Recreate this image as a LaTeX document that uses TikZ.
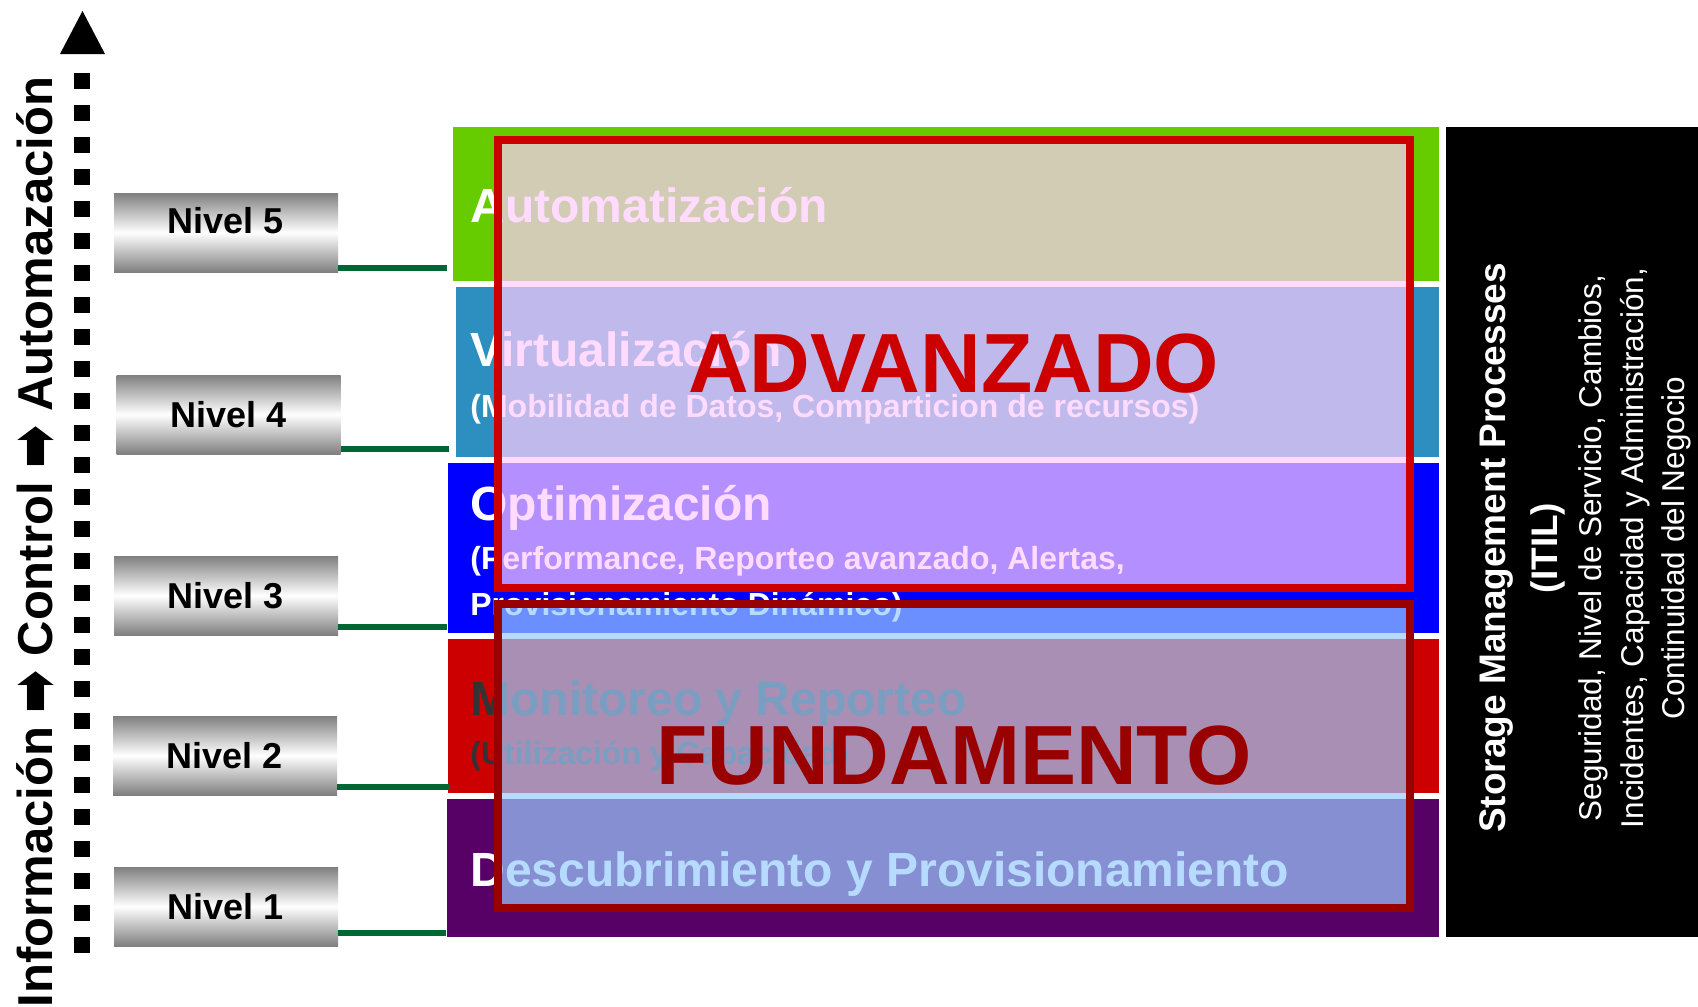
\documentclass[tikz,border=0pt]{standalone}
\usepackage{fontspec}
\usepackage{graphicx}
\setmainfont{Liberation Sans}
\newfontfamily\arrowfont{DejaVu Sans}
\newcommand{\flowarrow}{\raisebox{-0.09em}{\scalebox{1.05}[1.4]{\arrowfont ➡}}}

\definecolor{lvgreen}{HTML}{66CC00}
\definecolor{lvteal}{HTML}{2C8FC0}
\definecolor{lvblue}{HTML}{0000FF}
\definecolor{lvred}{HTML}{CC0000}
\definecolor{lvpurple}{HTML}{570066}
\definecolor{advpink}{HTML}{FFCCFF}
\definecolor{fundblue}{HTML}{99CCFF}
\definecolor{fundred}{HTML}{990000}
\definecolor{linkgreen}{HTML}{006633}
\definecolor{darktxt}{HTML}{333333}

\tikzset{
  nivel/.style={minimum width=112pt, minimum height=39.5pt, inner sep=0pt,
    top color=gray, bottom color=gray, middle color=white,
    font=\fontsize{18}{18}\selectfont\bfseries},
  lvlink/.style={draw=linkgreen, line width=3pt},
  ttl/.style={anchor=base west, inner sep=0pt, text=white,
    font=\fontsize{24}{24}\selectfont\bfseries},
  subttl/.style={anchor=base west, inner sep=0pt, text=white,
    font=\fontsize{16}{16}\selectfont\bfseries},
  bigword/.style={inner sep=0pt, font=\fontsize{42}{42}\selectfont\bfseries},
  itil/.style={rotate=90, anchor=base, inner sep=0pt, text=white,
    font=\fontsize{15.75}{15.75}\selectfont},
}

\begin{document}
\begin{tikzpicture}[x=0.5pt, y=-0.5pt]
\useasboundingbox (0,0) rectangle (1698,1007);

% capas
\fill[lvgreen]  (453,127) rectangle (1439,281);
\fill[lvteal]   (456,287) rectangle (1439,457);
\fill[lvblue]   (448,463) rectangle (1439,633);
\fill[lvred]    (448,639) rectangle (1439,793);
\fill[lvpurple] (447,799) rectangle (1439,937);
\fill[black]    (1446,127) rectangle (1698,937);

\node[ttl] (auto) at (470,222) {Automatización};
\node[ttl] (virt) at (470,366) {Virtualización};
\node[subttl] (virtsub) at (470,417) {(Mobilidad de Datos, Comparticion de recursos)};
\node[ttl] (opti) at (470,520) {Optimización};
\node[subttl] (optisub) at (470,569) {(Performance, Reporteo avanzado, Alertas,};
\node[subttl] (optisubb) at (470,615) {Provisionamiento Dinámico)};
\node[ttl, text=darktxt] (moni) at (470,715) {Monitoreo y Reporteo};
\node[subttl, text=darktxt] (monisub) at (470,764) {(Utilización y Capacidad)};
\node[ttl] (desc) at (470,886) {Descubrimiento y Provisionamiento};

% marcos
\fill[advpink, opacity=0.7] (498,140) rectangle (1410,588);
\draw[lvred, line width=4pt] (498,140) rectangle (1410,588);
\fill[fundblue, opacity=0.7] (498,604) rectangle (1410,908);
\draw[fundred, line width=4pt] (498,604) rectangle (1410,908);
\node[bigword, text=lvred] (adv) at (954,364) {ADVANZADO};
\node[bigword, text=fundred] (fund) at (954,756) {FUNDAMENTO};

% niveles
\node[nivel, text depth=12pt] (n5) at (226,232.5) {Nivel 5};
\node[nivel] (n4) at (228.5,414.5) {Nivel 4};
\node[nivel] (n3) at (226,595.5) {Nivel 3};
\node[nivel] (n2) at (225,755.5) {Nivel 2};
\node[nivel] (n1) at (226,906.5) {Nivel 1};
\coordinate (e5) at (447,268);
\coordinate (e4) at (449,449);
\coordinate (e3) at (447,627);
\coordinate (e2) at (450,787);
\coordinate (e1) at (446,933);
\draw[lvlink] (n5.east |- e5) -- (e5);
\draw[lvlink] (n4.east |- e4) -- (e4);
\draw[lvlink] (n3.east |- e3) -- (e3);
\draw[lvlink] (n2.east |- e2) -- (e2);
\draw[lvlink] (n1.east |- e1) -- (e1);

% flecha
\draw[line width=8pt, dash pattern=on 8pt off 8pt] (82,73) -- (82,953);
\fill (60,54) -- (82.5,11) -- (105,54) -- cycle;
\node[rotate=90, anchor=base, inner sep=0pt, font=\fontsize{24.5}{24.5}\selectfont\bfseries] (flow) at (53,542)
  {Información \flowarrow{} Control \flowarrow{} Automazación};

% ITIL
\node[itil, font=\fontsize{18.5}{18.5}\selectfont\bfseries] (smp) at (1505,548) {Storage Management Processes};
\node[itil, font=\fontsize{18.5}{18.5}\selectfont\bfseries] (smpitil) at (1557,548) {(ITIL)};
\node[itil] (seg) at (1601,548) {Seguridad, Nivel de Servicio, Cambios,};
\node[itil] (inc) at (1643,548) {Incidentes, Capacidad y Administración,};
\node[itil] (cont) at (1684,548) {Continuidad del Negocio};

\end{tikzpicture}
\end{document}
